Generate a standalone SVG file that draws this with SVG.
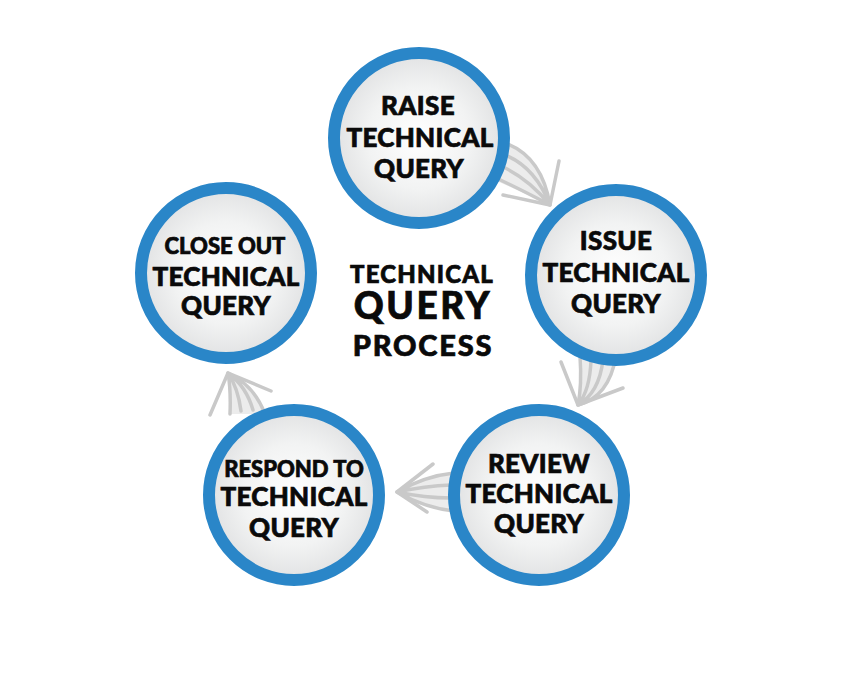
<svg xmlns="http://www.w3.org/2000/svg" width="842" height="681" viewBox="0 0 842 681">
<defs>
<radialGradient id="g" cx="0.5" cy="0.5" r="0.5">
<stop offset="0" stop-color="#ffffff"/>
<stop offset="0.6" stop-color="#f2f3f3"/>
<stop offset="1" stop-color="#e1e2e3"/>
</radialGradient>
<style>
.c{fill:url(#g);stroke:#2a86c8;stroke-width:12}
.t{font-family:Lato,"Open Sans","Liberation Sans",sans-serif;font-weight:900;fill:#0a0a0a;stroke:#0a0a0a;stroke-width:0.7;text-anchor:middle}
.l{font-size:26px;letter-spacing:0.3px}
.s{font-size:22px}
.f{fill:#ececec;stroke:none}
.a{fill:none;stroke:#c9c9c9;stroke-width:3.5;stroke-linecap:round;stroke-linejoin:round}
</style>
</defs>
<rect width="842" height="681" fill="#ffffff"/>
<g id="connectors">
<g id="arrow-raise-issue">
<path class="f" d="M508,144 Q542,158 550,205 Q518,190 494,180 Z"/>
<path class="a" d="M508,144 Q542,158 550,205 M505,155 Q535,167 550,205 M501,166 Q528,178 550,205 M496,178 Q520,189 550,205"/>
<path class="a" d="M559,161 L550,205 L503,195"/>
</g>
<g id="arrow-issue-review">
<path class="f" d="M616,356 Q609,397 578,405 Q582,385 580,356 Z"/>
<path class="a" d="M580,356 Q582,385 578,405 M591,360 Q590,390 578,405 M603,360 Q599,393 578,405 M616,356 Q609,397 578,405"/>
<path class="a" d="M561,362 L578,405 L623,388"/>
</g>
<g id="arrow-review-respond">
<path class="f" d="M454,511 Q425,508 397,492 Q425,476 454,473 Z"/>
<path class="a" d="M454,473 Q425,476 397,492 M451,485 Q425,486 397,492 M451,498 Q425,498 397,492 M454,511 Q425,508 397,492"/>
<path class="a" d="M433,464 L397,492 L427,512"/>
</g>
<g id="arrow-respond-close">
<path class="f" d="M230,414 Q231,390 228,373 Q254,385 265,414 Z"/>
<path class="a" d="M230,414 Q231,390 228,373 M241,411 Q238,388 228,373 M253,410 Q246,386 228,373 M265,414 Q254,385 228,373"/>
<path class="a" d="M210,415 L228,373 L271,391"/>
</g>
</g>
<g id="raise">
<circle class="c" cx="419" cy="138" r="85"/>
<text class="t l" x="418" y="115">RAISE</text>
<text class="t l" x="420" y="147">TECHNICAL</text>
<text class="t l" x="419" y="178">QUERY</text>
</g>
<g id="issue">
<circle class="c" cx="616" cy="275" r="85"/>
<text class="t l" x="616" y="250">ISSUE</text>
<text class="t l" x="616" y="282">TECHNICAL</text>
<text class="t l" x="616" y="313">QUERY</text>
</g>
<g id="review">
<circle class="c" cx="539" cy="495" r="85"/>
<text class="t l" x="539" y="473">REVIEW</text>
<text class="t l" x="539" y="503">TECHNICAL</text>
<text class="t l" x="539" y="533">QUERY</text>
</g>
<g id="respond">
<circle class="c" cx="294" cy="495" r="85"/>
<text class="t s" x="294" y="477">RESPOND TO</text>
<text class="t l" x="294" y="506">TECHNICAL</text>
<text class="t l" x="294" y="537">QUERY</text>
</g>
<g id="close">
<circle class="c" cx="226" cy="273" r="85"/>
<text class="t s" x="225" y="254">CLOSE OUT</text>
<text class="t l" x="226" y="286">TECHNICAL</text>
<text class="t l" x="226" y="315">QUERY</text>
</g>
<g id="title">
<text class="t" x="422" y="283" font-size="24" letter-spacing="1.2">TECHNICAL</text>
<text class="t" x="423" y="319" font-size="37" letter-spacing="2.5">QUERY</text>
<text class="t" x="423" y="356" font-size="29" letter-spacing="1.8">PROCESS</text>
</g>
</svg>
